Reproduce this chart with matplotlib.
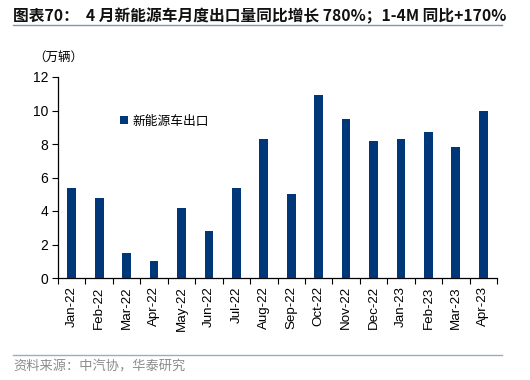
import matplotlib
matplotlib.use("Agg")
import matplotlib.pyplot as plt
import numpy as np
from matplotlib.lines import Line2D

months = ["Jan-22", "Feb-22", "Mar-22", "Apr-22", "May-22", "Jun-22", "Jul-22", "Aug-22",
          "Sep-22", "Oct-22", "Nov-22", "Dec-22", "Jan-23", "Feb-23", "Mar-23", "Apr-23"]
exports = [5.4, 4.8, 1.5, 1.0, 4.2, 2.8, 5.4, 8.3, 5.0, 10.9, 9.5, 8.2, 8.3, 8.7, 7.8, 10.0]
series_name = "新能源车出口"
title = "图表70：  4 月新能源车月度出口量同比增长 780%；1-4M 同比+170%"
unit = "（万辆）"
source = "资料来源：中汽协，华泰研究"

CJK = ["Noto Sans CJK SC", "DejaVu Sans"]
LAT = ["Liberation Sans", "DejaVu Sans"]
bar_color = "#003778"

fig = plt.figure(figsize=(5.3, 3.8), dpi=100)
ax = fig.add_axes([58/530, 1-278/380, (497-58)/530, (278-77)/380])

x = np.arange(len(months))
ax.bar(x, exports, width=0.32, color=bar_color, edgecolor="none", label=series_name, zorder=3)

ax.set_xlim(-0.5, len(months)-0.5)
ax.set_ylim(0, 12)
ax.set_yticks(np.arange(0, 13, 2))
ax.set_yticklabels([str(v) for v in range(0, 13, 2)], fontfamily=LAT, fontsize=10)
ax.set_xticks(x)
ax.set_xticklabels(months, rotation=90, fontfamily=LAT, fontsize=9.6)
ax.set_xticks(np.arange(-0.5, len(months), 1), minor=True)
ax.tick_params(axis="x", which="major", length=0, pad=6)
ax.tick_params(axis="x", which="minor", length=4, direction="out", width=0.8)
ax.tick_params(axis="y", length=4, direction="out", width=0.8, pad=3)
for s in ["top", "right"]:
    ax.spines[s].set_visible(False)
ax.spines["left"].set_linewidth(0.9)
ax.spines["bottom"].set_linewidth(0.9)

leg = ax.legend(loc="upper left", bbox_to_anchor=(0.115, 0.87), frameon=False,
                prop={"family": CJK, "size": 9.2}, handlelength=0.6, handleheight=0.6,
                handletextpad=0.4)

fig.text(13/530, 1-16/380, title, fontfamily=CJK, fontsize=11.3, fontweight="bold",
         va="center", ha="left", color="#111111")
fig.add_artist(Line2D([13/530, 502/530], [1-25/380, 1-25/380], color="#7f93b5", lw=1.0))
fig.text(33/530, 1-57/380, unit, fontfamily=CJK, fontsize=9, va="center", ha="left")
fig.add_artist(Line2D([13/530, 502/530], [1-355/380, 1-355/380], color="#9aabc6", lw=1.0))
fig.text(13/530, 1-367/380, source, fontfamily=CJK, fontsize=9.5, va="center", ha="left",
         color="#8c8c8c")

fig.savefig("out.png", dpi=100)
